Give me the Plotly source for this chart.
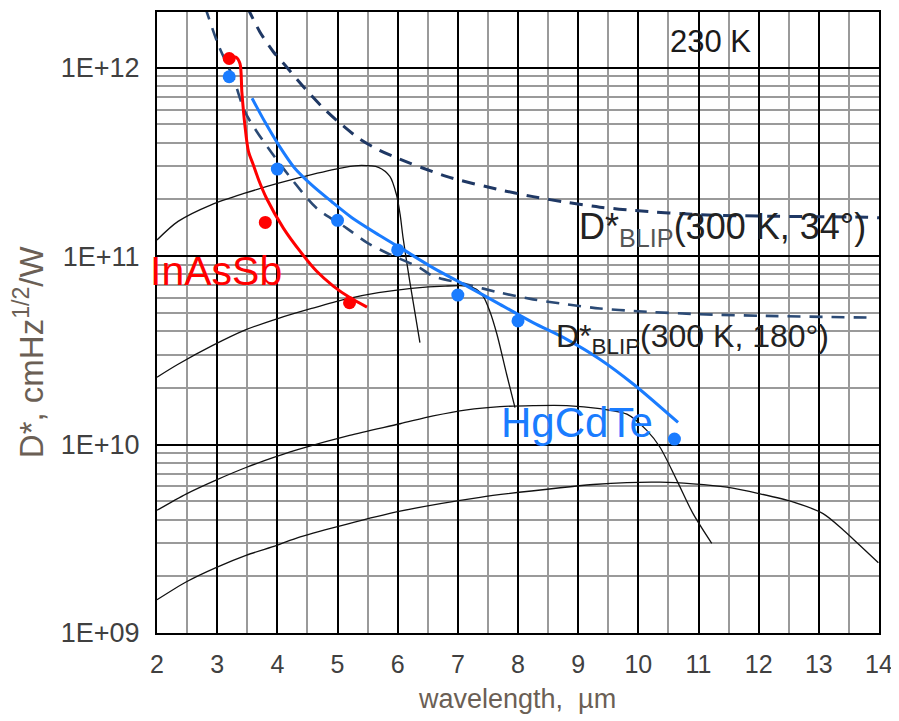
import numpy as np
import plotly.graph_objects as go

# ---------------- data ----------------
# thin black curves (D* of photodiodes at different cut-offs)
x_a = [2.0, 2.35, 2.91, 3.46, 4.02, 4.57, 5.12, 5.40, 5.68, 5.87, 5.98, 6.04, 6.09, 6.20, 6.37]
d_a = [1.22e11, 1.53e11, 1.88e11, 2.16e11, 2.44e11, 2.71e11, 2.96e11, 3.03e11, 2.96e11, 2.65e11,
       2.12e11, 1.67e11, 1.25e11, 7.38e10, 3.48e10]

x_b = [2.0, 2.35, 2.91, 3.46, 4.02, 4.57, 5.12, 5.68, 6.23, 6.79, 7.15, 7.31, 7.42, 7.53, 7.65, 7.81, 7.95]
d_b = [2.28e10, 2.67e10, 3.34e10, 4.05e10, 4.68e10, 5.28e10, 5.90e10, 6.40e10, 6.75e10, 6.94e10,
       6.94e10, 6.67e10, 6.14e10, 5.12e10, 3.85e10, 2.37e10, 1.57e10]

x_c = [2.0, 2.49, 2.99, 3.49, 3.99, 4.38, 5.2, 6.04, 6.59, 7.15, 7.70, 8.25, 8.81, 9.36, 9.81,
       10.14, 10.36, 10.64, 10.91, 11.22]
d_c = [4.48e9, 5.48e9, 6.50e9, 7.58e9, 8.65e9, 9.49e9, 1.12e10, 1.29e10, 1.42e10, 1.53e10, 1.59e10,
       1.61e10, 1.61e10, 1.55e10, 1.45e10, 1.19e10, 9.68e9, 6.46e9, 4.30e9, 2.99e9]

x_d = [2.0, 2.49, 2.99, 3.49, 3.99, 4.38, 6.04, 7.37, 8.70, 9.25, 9.81, 10.36, 10.91, 11.47, 12.02,
       12.58, 13.07, 13.41, 13.68, 13.99]
d_d = [1.50e9, 1.87e9, 2.23e9, 2.59e9, 2.92e9, 3.24e9, 4.43e9, 5.25e9, 5.90e9, 6.14e9, 6.29e9,
       6.32e9, 6.19e9, 5.94e9, 5.48e9, 4.95e9, 4.30e9, 3.51e9, 2.92e9, 2.36e9]

# BLIP limits (dashed)
x_blip34 = [3.50, 3.71, 3.93, 4.13, 4.46, 4.74, 5.01, 5.35, 5.68, 5.93, 6.81, 7.70, 8.25, 8.81,
            9.36, 9.92, 11.02, 12.13, 13.79, 14.0]
d_blip34 = [2.10e12, 1.55e12, 1.22e12, 1.03e12, 7.76e11, 6.22e11, 5.18e11, 4.23e11, 3.67e11,
            3.38e11, 2.65e11, 2.25e11, 2.07e11, 1.93e11, 1.82e11, 1.75e11, 1.66e11, 1.63e11,
            1.61e11, 1.60e11]

x_blip180 = [2.80, 3.02, 3.27, 3.46, 3.66, 3.93, 4.27, 4.65, 5.15, 5.49, 5.82, 6.37, 6.59, 7.15,
             7.70, 8.25, 8.81, 9.36, 9.92, 11.02, 12.13, 13.90]
d_blip180 = [2.10e12, 1.32e12, 8.77e11, 5.85e11, 4.58e11, 3.45e11, 2.49e11, 1.80e11, 1.41e11,
             1.18e11, 1.04e11, 8.67e10, 7.83e10, 7.08e10, 6.40e10, 5.90e10, 5.55e10, 5.28e10,
             5.12e10, 4.92e10, 4.82e10, 4.72e10]

# HgCdTe
x_hgcdte_fit = [3.58, 3.79, 4.02, 4.29, 4.57, 4.90, 5.24, 5.68, 6.04, 6.59, 7.15, 7.70, 8.25,
                8.81, 9.36, 9.92, 10.66]
d_hgcdte_fit = [6.89e11, 5.18e11, 3.90e11, 2.93e11, 2.39e11, 1.95e11, 1.60e11, 1.30e11, 1.11e11,
                8.67e10, 6.94e10, 5.55e10, 4.44e10, 3.62e10, 2.84e10, 2.09e10, 1.31e10]
x_hgcdte_pts = [3.2, 4.0, 5.0, 6.0, 7.0, 8.0, 10.6]
d_hgcdte_pts = [8.96e11, 2.90e11, 1.55e11, 1.08e11, 6.22e10, 4.53e10, 1.07e10]

# InAsSb
x_inassb_fit = [3.20, 3.31, 3.38, 3.41, 3.46, 3.52, 3.60, 3.70, 3.82, 4.10, 4.38, 4.65, 4.93, 5.21, 5.49]
d_inassb_fit = [1.12e12, 1.14e12, 1.05e12, 7.47e11, 4.98e11, 3.60e11, 3.06e11, 2.49e11, 2.03e11,
                1.41e11, 1.06e11, 8.34e10, 6.94e10, 6.01e10, 5.37e10]
x_inassb_pts = [3.2, 3.8, 5.2]
d_inassb_pts = [1.12e12, 1.51e11, 5.66e10]

x_ticks = list(range(2, 15))
y_tickvals = [1e9, 1e10, 1e11, 1e12]
y_ticktext = ["1E+09", "1E+10", "1E+11", "1E+12"]

# ---------------- styles ----------------
FONT = "Liberation Sans, Arial, sans-serif"
BLUE = "#1a7cff"
RED = "#ff0000"
NAVY = "#1f3864"

fig = go.Figure()

for xs, ds in [(x_a, d_a), (x_b, d_b), (x_c, d_c), (x_d, d_d)]:
    fig.add_trace(go.Scatter(x=xs, y=ds, mode="lines",
                             line=dict(color="#111111", width=1.3, shape="spline", smoothing=0.8),
                             hoverinfo="skip", showlegend=False))

fig.add_trace(go.Scatter(x=x_blip34, y=d_blip34, mode="lines",
                         line=dict(color=NAVY, width=3, dash="13px,9px", shape="spline", smoothing=0.8),
                         showlegend=False))
fig.add_trace(go.Scatter(x=x_blip180, y=d_blip180, mode="lines",
                         line=dict(color="#2b4a75", width=2.6, dash="13px,9px", shape="spline", smoothing=0.8),
                         showlegend=False))

fig.add_trace(go.Scatter(x=x_hgcdte_fit, y=d_hgcdte_fit, mode="lines",
                         line=dict(color=BLUE, width=3, shape="spline", smoothing=0.8),
                         showlegend=False))
fig.add_trace(go.Scatter(x=x_hgcdte_pts, y=d_hgcdte_pts, mode="markers",
                         marker=dict(color=BLUE, size=13), showlegend=False))

fig.add_trace(go.Scatter(x=x_inassb_fit, y=d_inassb_fit, mode="lines",
                         line=dict(color=RED, width=3, shape="spline", smoothing=0.8),
                         showlegend=False))
fig.add_trace(go.Scatter(x=x_inassb_pts, y=d_inassb_pts, mode="markers",
                         marker=dict(color=RED, size=13), showlegend=False))

minor_y = [m * 10 ** e for e in range(9, 13) for m in range(2, 10)]

fig.update_xaxes(range=[2, 14], tickvals=x_ticks, showgrid=True, gridcolor="#000000", gridwidth=1.6,
                 minor=dict(dtick=0.5, tick0=2, showgrid=True, gridcolor="#9a9a9a", gridwidth=1.6),
                 showline=True, linecolor="#000000", linewidth=2, mirror=True, ticks="",
                 ticklabelstandoff=8,
                 zeroline=False, tickfont=dict(family=FONT, size=25, color="#404040"))
fig.update_yaxes(type="log", range=[9, 12.296], tickvals=y_tickvals, ticktext=y_ticktext,
                 showgrid=True, gridcolor="#000000", gridwidth=1.6,
                 minor=dict(tickmode="array", tickvals=minor_y, showgrid=True,
                            gridcolor="#9a9a9a", gridwidth=1.6),
                 showline=True, linecolor="#000000", linewidth=2, mirror=True, ticks="",
                 ticklabelstandoff=10,
                 zeroline=False, tickfont=dict(family=FONT, size=27, color="#404040"))

ann = []
ann.append(dict(x=-0.012, y=10.921, xref="paper", yref="y", text="InAsSb", showarrow=False,
                xanchor="left", yanchor="middle", font=dict(family=FONT, size=41, color=RED)))
ann.append(dict(x=7.69, y=10.119, xref="x", yref="y", text="HgCdTe", showarrow=False,
                xanchor="left", yanchor="middle", font=dict(family=FONT, size=42, color=BLUE)))
ann.append(dict(x=11.2, y=12.138, xref="x", yref="y", text="230 K", showarrow=False,
                xanchor="center", yanchor="middle", font=dict(family=FONT, size=31, color="#1a1a1a")))
ann.append(dict(x=8.98, y=11.143, xref="x", yref="y",
                text="D*<sub><span style='color:#555555'>BLIP</span></sub>(300 K, 34°)",
                showarrow=False, xanchor="left", yanchor="middle",
                font=dict(family=FONT, size=36, color="#222222")))
ann.append(dict(x=8.60, y=10.563, xref="x", yref="y",
                text="D*<sub>BLIP</sub>(300 K, 180°)",
                showarrow=False, xanchor="left", yanchor="middle",
                font=dict(family=FONT, size=32, color="#222222")))
ann.append(dict(x=-0.178, y=0.453, xref="paper", yref="paper",
                text="D*, cmHz<sup>1/2</sup>/W", textangle=-90, showarrow=False,
                xanchor="center", yanchor="middle", font=dict(family=FONT, size=33, color="#6b5f55")))
ann.append(dict(x=0.4986, y=-0.107, xref="paper", yref="paper",
                text="wavelength,\u00a0\u00a0µm", showarrow=False,
                xanchor="center", yanchor="middle", font=dict(family=FONT, size=27, color="#6b5f55")))

# the page body adds an 8 px offset; size the figure so the plot area lands where the reference has it
fig.update_layout(width=891, height=713, margin=dict(l=149, r=20, t=2, b=88),
                  paper_bgcolor="white", plot_bgcolor="white", annotations=ann,
                  showlegend=False)

fig.write_html("out.html")
